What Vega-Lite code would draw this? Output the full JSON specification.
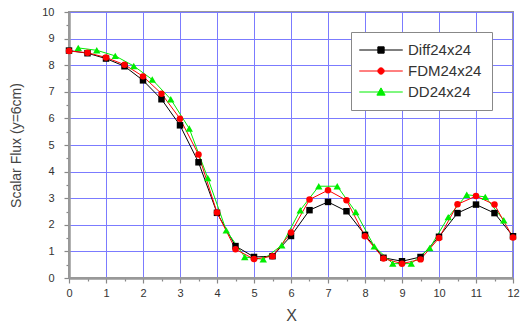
{
  "$schema": "https://vega.github.io/schema/vega-lite/v6.json",
  "width": 444,
  "height": 266,
  "autosize": {"type": "none"},
  "padding": {"left": 69, "top": 12, "right": 7, "bottom": 50},
  "background": "white",
  "config": {
    "font": "Liberation Sans",
    "view": {"stroke": "#999999", "strokeWidth": 2},
    "axis": {
      "domainColor": "#999999",
      "domainWidth": 2.5,
      "tickColor": "#888888",
      "tickWidth": 1.2,
      "gridColor": "#7b7bff",
      "gridWidth": 1,
      "labelFont": "Liberation Sans",
      "labelFontSize": 11,
      "labelColor": "#333333",
      "titleFont": "Liberation Sans",
      "titleFontWeight": "normal",
      "titleColor": "#444444"
    },
    "legend": {
      "orient": "none",
      "legendX": 282,
      "legendY": 20,
      "fillColor": "white",
      "strokeColor": "#888888",
      "padding": 10,
      "labelFont": "Liberation Sans",
      "labelFontSize": 15,
      "labelColor": "#333333",
      "symbolSize": 225,
      "symbolOffset": 12,
      "labelOffset": 19,
      "rowPadding": 5
    }
  },
  "data": {
    "values": [
      {"series": "Diff24x24", "x": 0, "y": 8.55},
      {"series": "Diff24x24", "x": 0.5, "y": 8.45},
      {"series": "Diff24x24", "x": 1, "y": 8.25},
      {"series": "Diff24x24", "x": 1.5, "y": 7.96},
      {"series": "Diff24x24", "x": 2, "y": 7.43},
      {"series": "Diff24x24", "x": 2.5, "y": 6.72},
      {"series": "Diff24x24", "x": 3, "y": 5.74},
      {"series": "Diff24x24", "x": 3.5, "y": 4.35},
      {"series": "Diff24x24", "x": 4, "y": 2.45},
      {"series": "Diff24x24", "x": 4.5, "y": 1.2},
      {"series": "Diff24x24", "x": 5, "y": 0.79},
      {"series": "Diff24x24", "x": 5.5, "y": 0.82},
      {"series": "Diff24x24", "x": 6, "y": 1.58},
      {"series": "Diff24x24", "x": 6.5, "y": 2.55},
      {"series": "Diff24x24", "x": 7, "y": 2.86},
      {"series": "Diff24x24", "x": 7.5, "y": 2.51},
      {"series": "Diff24x24", "x": 8, "y": 1.62},
      {"series": "Diff24x24", "x": 8.5, "y": 0.76},
      {"series": "Diff24x24", "x": 9, "y": 0.63},
      {"series": "Diff24x24", "x": 9.5, "y": 0.79},
      {"series": "Diff24x24", "x": 10, "y": 1.55},
      {"series": "Diff24x24", "x": 10.5, "y": 2.44},
      {"series": "Diff24x24", "x": 11, "y": 2.76},
      {"series": "Diff24x24", "x": 11.5, "y": 2.44},
      {"series": "Diff24x24", "x": 12, "y": 1.57},
      {"series": "DD24x24", "x": 0.25, "y": 8.65},
      {"series": "DD24x24", "x": 0.75, "y": 8.56},
      {"series": "DD24x24", "x": 1.25, "y": 8.35},
      {"series": "DD24x24", "x": 1.75, "y": 7.97},
      {"series": "DD24x24", "x": 2.25, "y": 7.46},
      {"series": "DD24x24", "x": 2.75, "y": 6.72},
      {"series": "DD24x24", "x": 3.25, "y": 5.62},
      {"series": "DD24x24", "x": 3.75, "y": 3.76},
      {"series": "DD24x24", "x": 4.25, "y": 1.79},
      {"series": "DD24x24", "x": 4.75, "y": 0.79},
      {"series": "DD24x24", "x": 5.25, "y": 0.7},
      {"series": "DD24x24", "x": 5.75, "y": 1.23},
      {"series": "DD24x24", "x": 6.25, "y": 2.55},
      {"series": "DD24x24", "x": 6.75, "y": 3.45},
      {"series": "DD24x24", "x": 7.25, "y": 3.45},
      {"series": "DD24x24", "x": 7.75, "y": 2.48},
      {"series": "DD24x24", "x": 8.25, "y": 1.19},
      {"series": "DD24x24", "x": 8.75, "y": 0.54},
      {"series": "DD24x24", "x": 9.25, "y": 0.54},
      {"series": "DD24x24", "x": 9.75, "y": 1.13},
      {"series": "DD24x24", "x": 10.25, "y": 2.29},
      {"series": "DD24x24", "x": 10.75, "y": 3.13},
      {"series": "DD24x24", "x": 11.25, "y": 3.05},
      {"series": "DD24x24", "x": 11.75, "y": 2.17},
      {"series": "FDM24x24", "x": 0, "y": 8.53},
      {"series": "FDM24x24", "x": 0.5, "y": 8.47},
      {"series": "FDM24x24", "x": 1, "y": 8.29},
      {"series": "FDM24x24", "x": 1.5, "y": 8.02},
      {"series": "FDM24x24", "x": 2, "y": 7.58},
      {"series": "FDM24x24", "x": 2.5, "y": 6.93},
      {"series": "FDM24x24", "x": 3, "y": 5.99},
      {"series": "FDM24x24", "x": 3.5, "y": 4.64},
      {"series": "FDM24x24", "x": 4, "y": 2.46},
      {"series": "FDM24x24", "x": 4.5, "y": 1.08},
      {"series": "FDM24x24", "x": 5, "y": 0.71},
      {"series": "FDM24x24", "x": 5.5, "y": 0.82},
      {"series": "FDM24x24", "x": 6, "y": 1.71},
      {"series": "FDM24x24", "x": 6.5, "y": 2.95},
      {"series": "FDM24x24", "x": 7, "y": 3.3},
      {"series": "FDM24x24", "x": 7.5, "y": 2.92},
      {"series": "FDM24x24", "x": 8, "y": 1.57},
      {"series": "FDM24x24", "x": 8.5, "y": 0.73},
      {"series": "FDM24x24", "x": 9, "y": 0.54},
      {"series": "FDM24x24", "x": 9.5, "y": 0.7},
      {"series": "FDM24x24", "x": 10, "y": 1.5},
      {"series": "FDM24x24", "x": 10.5, "y": 2.77},
      {"series": "FDM24x24", "x": 11, "y": 3.08},
      {"series": "FDM24x24", "x": 11.5, "y": 2.76},
      {"series": "FDM24x24", "x": 12, "y": 1.52}
    ]
  },
  "encoding": {
    "x": {
      "field": "x",
      "type": "quantitative",
      "title": "X",
      "scale": {"domain": [0, 12], "nice": false},
      "axis": {
        "values": [0, 0.5, 1, 1.5, 2, 2.5, 3, 3.5, 4, 4.5, 5, 5.5, 6, 6.5, 7, 7.5, 8, 8.5, 9, 9.5, 10, 10.5, 11, 11.5, 12],
        "labelExpr": "datum.value % 1 === 0 ? format(datum.value, 'd') : ''",
        "gridOpacity": {"condition": {"test": "datum.value % 1 !== 0", "value": 0}, "value": 1},
        "tickSize": {"condition": {"test": "datum.value % 1 !== 0", "value": 3}, "value": 5},
        "labelPadding": 4,
        "labelFlush": false,
        "labelOverlap": false,
        "titleFontSize": 16,
        "titlePadding": 9
      }
    },
    "y": {
      "field": "y",
      "type": "quantitative",
      "title": "Scalar Flux (y=6cm)",
      "scale": {"domain": [0, 10], "nice": false},
      "axis": {
        "values": [0, 0.5, 1, 1.5, 2, 2.5, 3, 3.5, 4, 4.5, 5, 5.5, 6, 6.5, 7, 7.5, 8, 8.5, 9, 9.5, 10],
        "labelExpr": "datum.value % 1 === 0 ? format(datum.value, 'd') : ''",
        "gridOpacity": {"condition": {"test": "datum.value % 1 !== 0", "value": 0}, "value": 1},
        "tickSize": {"condition": {"test": "datum.value % 1 !== 0", "value": 3}, "value": 5},
        "labelPadding": 10,
        "labelFlush": false,
        "labelOverlap": false,
        "titleFontSize": 14,
        "titlePadding": 18
      }
    },
    "color": {
      "field": "series",
      "type": "nominal",
      "scale": {"domain": ["Diff24x24", "FDM24x24", "DD24x24"], "range": ["#000000", "#ff0000", "#00ee00"]},
      "legend": {
        "title": null,
        "encoding": {
          "symbols": {
            "shape": {"value": {"expr": "datum.value === 'Diff24x24' ? 'M-2.9,0H2.9M-0.42,-0.42H0.42V0.42H-0.42Z' : datum.value === 'FDM24x24' ? 'M-2.9,0H2.9M0.42,0A0.42,0.42 0 1 1 -0.42,0A0.42,0.42 0 1 1 0.42,0Z' : 'M-2.9,0H2.9M0,-0.55L0.55,0.42H-0.55Z'"}},
            "size": {"value": 225},
            "stroke": {"value": {"expr": "scale('color', datum.value)"}},
            "fill": {"value": {"expr": "scale('color', datum.value)"}},
            "strokeWidth": {"value": 1},
            "opacity": {"value": 1}
          }
        }
      }
    }
  },
  "layer": [
    {
      "mark": {"type": "line", "strokeWidth": 1},
      "encoding": {}
    },
    {
      "transform": [{"filter": "datum.series === 'Diff24x24'"}],
      "mark": {"type": "point", "filled": true, "opacity": 1, "size": 42, "shape": "square"},
      "encoding": {}
    },
    {
      "transform": [{"filter": "datum.series === 'DD24x24'"}],
      "mark": {"type": "point", "filled": true, "opacity": 1, "size": 55, "shape": "triangle-up"},
      "encoding": {}
    },
    {
      "transform": [{"filter": "datum.series === 'FDM24x24'"}],
      "mark": {"type": "point", "filled": true, "opacity": 1, "size": 42, "shape": "circle"},
      "encoding": {}
    }
  ]
}
